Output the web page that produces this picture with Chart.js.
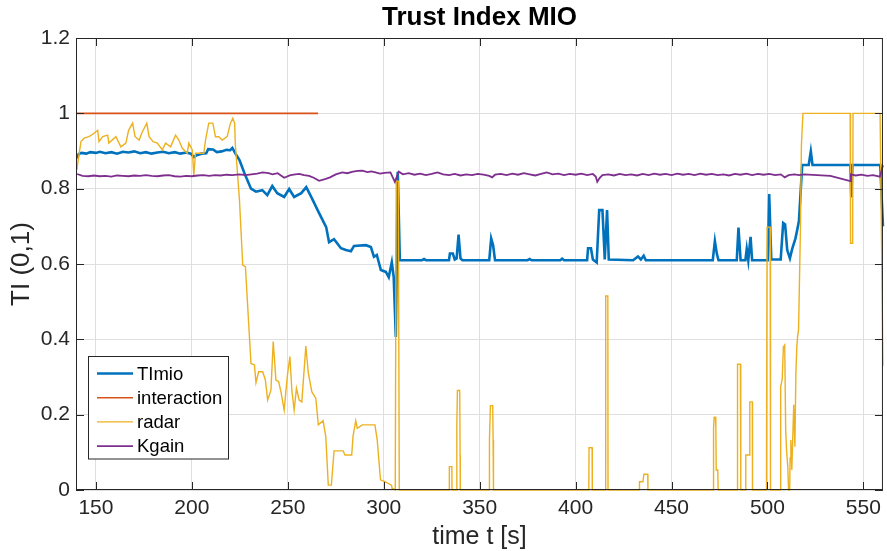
<!DOCTYPE html>
<html>
<head>
<meta charset="utf-8">
<script src="https://cdn.jsdelivr.net/npm/chart.js@4/dist/chart.umd.min.js"></script>
<style>
    html, body { margin: 0; padding: 0; background: #fff; }
</style>
</head>
<body>
<canvas id="chart" width="887" height="551"></canvas>
<script>
const FONT = '"Liberation Sans", Arial, Helvetica, sans-serif';

const xTicks = [150, 200, 250, 300, 350, 400, 450, 500, 550];
const yTicks = [0, 0.2, 0.4, 0.6, 0.8, 1, 1.2];

// TImio
const tiTime = [140.2, 141, 142.5, 145, 147, 150, 152, 155, 158, 161, 164, 167, 170, 173, 176, 179, 182, 185, 188, 191, 194, 197, 199.5, 201, 202.5, 205, 207.5, 208.5, 211, 213, 215.5, 218, 220, 221.1,
    222.5, 224.8, 227.4, 230.8, 233.4, 236.7, 239.3, 241.9, 244.5, 248.1, 250.7, 253.3, 257, 259.6, 262.2, 266.3, 270, 271.5, 274.1, 277.7, 280.3, 282.9, 284.5, 290.7, 293.3, 294.9, 296.4, 298.5, 301.1, 302.6, 304.2, 305.2, 306.3, 307.3, 308.4,
    320, 321, 322, 334, 334.5, 336, 337, 338, 339, 340, 341, 355, 356, 357, 358, 375, 376, 377, 392, 393, 394, 406, 406.5, 408, 409, 411, 412.3, 414, 415.2, 416.4, 417.3,
    430, 432.5, 434, 435.5, 436.6, 471.5, 472.6, 473.7, 474.5, 484, 484.9, 486, 488.5, 489.2, 490, 491.2, 492, 500.2, 500.9, 502, 506.9, 508.2, 509.2, 510.3, 511.7, 512.9, 514.6, 515.5, 516.4, 517.2, 518.1,
    521.5, 522.6, 523.5, 543.2, 543.7, 544.3, 558.8, 560.2];
const tiValue = [0.880, 0.892, 0.895, 0.893, 0.897, 0.895, 0.898, 0.894, 0.897, 0.893, 0.898, 0.896, 0.899, 0.894, 0.897, 0.893, 0.896, 0.898, 0.894, 0.897, 0.893, 0.896, 0.893, 0.884, 0.889, 0.893, 0.894, 0.905, 0.904, 0.897, 0.899, 0.903, 0.902, 0.908,
    0.895, 0.876, 0.841, 0.800, 0.792, 0.796, 0.783, 0.807, 0.788, 0.778, 0.799, 0.778, 0.788, 0.804, 0.778, 0.735, 0.698, 0.658, 0.666, 0.642, 0.637, 0.634, 0.648, 0.650, 0.645, 0.619, 0.624, 0.584, 0.579, 0.565, 0.605, 0.565, 0.406, 0.845, 0.610,
    0.610, 0.613, 0.610, 0.610, 0.628, 0.628, 0.612, 0.615, 0.678, 0.615, 0.610, 0.610, 0.668, 0.650, 0.610, 0.610, 0.613, 0.610, 0.610, 0.614, 0.610, 0.610, 0.642, 0.642, 0.612, 0.604, 0.743, 0.743, 0.612, 0.743, 0.612,
    0.610, 0.620, 0.612, 0.622, 0.610, 0.610, 0.661, 0.625, 0.610, 0.610, 0.697, 0.610, 0.610, 0.640, 0.610, 0.672, 0.610, 0.610, 0.786, 0.612, 0.612, 0.709, 0.705, 0.637, 0.615, 0.640, 0.668, 0.690, 0.714, 0.783, 0.863,
    0.863, 0.899, 0.863, 0.863, 0.777, 0.863, 0.863, 0.70];

// interaction
const inTime = [139.6, 265.8];
const inValue = [1, 1];

// radar
const raTime = [140.1, 140.5, 142.2, 143.8, 146.4, 149, 150.9, 151.6, 153.5, 156.1, 156.7, 160.4, 163, 165.6, 167, 169.1, 170.4, 172.5, 174.2, 176.5, 177.7, 179.8, 182, 184.6, 186.3, 188.9, 191.5, 193.2, 195, 197.6, 198.4, 200.2, 201, 201.9, 206.2, 207.1, 208.8, 210.9, 212.3, 214, 215.8, 218.4, 220.1, 221.3, 222.3, 222.6,
    224.8, 226.5, 227.9, 230.8, 232.6, 233.4, 234.8, 236.9, 238.3, 239.5, 241.2, 242.4, 243.8, 245.2, 246.4, 248.1, 249.8, 251.1, 252.1, 253.3, 254.5, 255.9, 257.3, 259.4, 260.7, 262.5, 264.6, 265.9, 268.4, 269.8, 271.1, 272.7, 274.1, 278.8, 279.8, 283.3, 284, 285.4, 286.2, 288.8, 295.4, 296.6, 298.3, 300.6, 304, 304.4, 306, 306.5, 307.6, 308.1,
    334.1, 334.2, 335.5, 335.6, 338.0, 338.1, 338.4, 339.6, 339.8, 339.9, 355.0, 355.1, 355.6, 356.8, 357.0, 357.2, 406.9, 407.0, 408.6, 408.7, 415.6, 415.7, 416.8, 416.9, 433.2, 433.3, 435.1, 435.6, 437.6, 437.7,
    471.7, 471.8, 472.0, 472.2, 472.9, 473.1, 473.3, 474.1, 474.3, 484.3, 484.4, 485.9, 486.1, 488.6, 488.7, 490.5, 490.8, 492.1, 492.2, 499.4, 499.5, 499.8, 501.4, 501.6,
    506.8, 506.9, 507.7, 508.3, 509, 509.5, 510, 510.6, 511, 511.6, 511.8, 512.2, 512.7, 513.2, 513.7, 514.3, 514.8, 515.3, 515.7, 516.2, 517.2, 517.7, 518.5, 543.1, 543.3, 544.4, 544.6, 558.7, 560.2];
const raValue = [0.850, 0.868, 0.925, 0.934, 0.938, 0.947, 0.955, 0.925, 0.938, 0.942, 0.921, 0.938, 0.911, 0.921, 0.955, 0.974, 0.938, 0.929, 0.951, 0.974, 0.938, 0.925, 0.921, 0.903, 0.921, 0.911, 0.942, 0.929, 0.907, 0.894, 0.921, 0.903, 0.836, 0.894, 0.894, 0.929, 0.974, 0.974, 0.938, 0.938, 0.929, 0.938, 0.974, 0.987, 0.974, 0.921,
    0.770, 0.597, 0.593, 0.336, 0.332, 0.285, 0.314, 0.314, 0.292, 0.239, 0.265, 0.394, 0.292, 0.288, 0.261, 0.212, 0.305, 0.354, 0.265, 0.212, 0.270, 0.239, 0.234, 0.382, 0.310, 0.261, 0.243, 0.173, 0.184, 0.141, 0.013, 0.013, 0.104, 0.104, 0.093, 0.093, 0.143, 0.184, 0.164, 0.173, 0.173, 0.133, 0.027, 0.022, 0.013, 0.004, 0, 0.82, 0.82, 0,
    0, 0.062, 0.062, 0, 0, 0.173, 0.264, 0.264, 0.093, 0, 0, 0.133, 0.224, 0.224, 0.133, 0, 0, 0.112, 0.112, 0, 0, 0.515, 0.515, 0, 0, 0.022, 0.022, 0.042, 0.042, 0,
    0, 0.102, 0.164, 0.193, 0.193, 0.164, 0.053, 0.053, 0, 0, 0.334, 0.334, 0, 0, 0.093, 0.093, 0.234, 0.234, 0, 0, 0.053, 0.698, 0.698, 0,
    0, 0.274, 0.294, 0.380, 0.385, 0.159, 0.102, 0.062, 0, 0, 0.085, 0.133, 0.053, 0.141, 0.226, 0.115, 0.305, 0.380, 0.407, 0.425, 0.695, 0.916, 1, 1, 0.655, 0.655, 1, 1, 0.33];

// Kgain
const kgTime = [140.2, 143, 146, 149, 152, 155, 158, 161, 164, 167, 170, 173, 176, 179, 182, 185, 188, 191, 194, 197, 200, 203, 206, 209, 212, 215, 218, 221, 224.8, 228, 231, 234, 236.9, 240, 242, 244.7, 248.1, 251, 253, 255.9, 258.5, 261.1, 263.5, 266.3, 269.8, 272, 275, 278.4, 281, 284, 286.5, 288.8, 291.5, 293.5, 295.7, 298, 300.5, 303.5, 305.8, 307.8,
    310, 313, 316, 319, 322, 325, 328, 331, 334, 337, 340, 343, 346, 349, 352, 355, 356.5, 358, 361, 364, 367, 370, 373, 376, 379, 382, 385, 388, 391, 394, 397, 400, 403, 406, 409, 410.5, 411.3, 412.5, 414, 417, 420, 423, 426, 429, 432, 435, 438, 441, 444, 447, 450, 453, 456, 459, 462, 465, 468, 471, 474, 477, 480, 483, 486, 489, 492, 495, 498, 501, 504, 507, 509, 511, 514, 516.5, 519, 532.8, 543.2, 543.5, 546, 549, 552, 555, 558.6, 560.2];
const kgValue = [0.839, 0.834, 0.833, 0.835, 0.833, 0.834, 0.832, 0.835, 0.834, 0.833, 0.835, 0.834, 0.836, 0.834, 0.833, 0.835, 0.836, 0.833, 0.832, 0.834, 0.833, 0.835, 0.836, 0.834, 0.836, 0.835, 0.837, 0.836, 0.838, 0.836, 0.838, 0.840, 0.843, 0.841, 0.838, 0.841, 0.829, 0.835, 0.837, 0.839, 0.836, 0.834, 0.829, 0.821, 0.826, 0.830, 0.838, 0.843, 0.841, 0.845, 0.847, 0.848, 0.844, 0.846, 0.843, 0.840, 0.842, 0.843, 0.818, 0.845,
    0.838, 0.841, 0.837, 0.840, 0.836, 0.839, 0.843, 0.838, 0.836, 0.839, 0.835, 0.838, 0.836, 0.839, 0.837, 0.834, 0.830, 0.837, 0.839, 0.836, 0.840, 0.837, 0.841, 0.838, 0.835, 0.839, 0.843, 0.838, 0.840, 0.836, 0.839, 0.837, 0.840, 0.836, 0.839, 0.832, 0.818, 0.828, 0.836, 0.838, 0.835, 0.839, 0.836, 0.838, 0.835, 0.839, 0.836, 0.840, 0.837, 0.839, 0.836, 0.840, 0.837, 0.839, 0.836, 0.840, 0.837, 0.839, 0.836, 0.838, 0.835, 0.839, 0.837, 0.840, 0.836, 0.839, 0.837, 0.839, 0.836, 0.838, 0.830, 0.836, 0.838, 0.836, 0.838, 0.834, 0.820, 0.838, 0.835, 0.837, 0.834, 0.836, 0.832, 0.862];

function toPoints(ts, vs) {
    return ts.map((t, i) => ({x: t, y: vs[i]}));
}

function lineSet(label, ts, vs, color, width, order) {
    return {
        label: label,
        data: toPoints(ts, vs),
        borderColor: color,
        backgroundColor: color,
        borderWidth: width,
        showLine: true,
        pointRadius: 0,
        tension: 0,
        fill: false,
        clip: 2,
        order: order
    };
}

// axes frame with inward ticks, like the original
const axesFrame = {
    id: 'axesFrame',
    afterDatasetsDraw(chart) {
        const {ctx, chartArea: a, scales: {x, y}} = chart;
        ctx.save();
        ctx.strokeStyle = '#262626';
        ctx.lineWidth = 1;
        ctx.beginPath();
        xTicks.forEach(v => {
            const px = Math.round(x.getPixelForValue(v)) + 0.5;
            ctx.moveTo(px, a.bottom); ctx.lineTo(px, a.bottom - 8);
            ctx.moveTo(px, a.top); ctx.lineTo(px, a.top + 8);
        });
        yTicks.forEach(v => {
            const py = Math.round(y.getPixelForValue(v)) + 0.5;
            ctx.moveTo(a.left, py); ctx.lineTo(a.left + 8, py);
            ctx.moveTo(a.right, py); ctx.lineTo(a.right - 8, py);
        });
        ctx.stroke();
        ctx.strokeRect(a.left + 0.5, a.top + 0.5, a.right - a.left - 1, a.bottom - a.top - 1);
        ctx.restore();
    }
};

const boxLegend = {
    id: 'boxLegend',
    afterDraw(chart) {
        const ctx = chart.ctx;
        const bx = 88.5, by = 356.5, bw = 140, bh = 102.5;
        ctx.save();
        ctx.fillStyle = '#fff';
        ctx.fillRect(bx, by, bw, bh);
        ctx.strokeStyle = '#262626';
        ctx.lineWidth = 1;
        ctx.strokeRect(bx, by, bw, bh);
        ctx.font = '18.5px ' + FONT;
        ctx.textBaseline = 'middle';
        ctx.fillStyle = '#000';
        chart.data.datasets.forEach((ds, i) => {
            const yy = 373.5 + i * 24.2;
            ctx.strokeStyle = ds.borderColor;
            ctx.lineWidth = ds.borderWidth;
            ctx.beginPath();
            ctx.moveTo(97, yy);
            ctx.lineTo(133, yy);
            ctx.stroke();
            ctx.fillText(ds.label, 137, yy + 1);
        });
        ctx.restore();
    }
};

const ctx = document.getElementById('chart').getContext('2d');

const chart = new Chart(ctx, {
    type: 'scatter',
    data: {
        datasets: [
            lineSet('TImio', tiTime, tiValue, '#0072BD', 2.6, 4),
            lineSet('interaction', inTime, inValue, '#D95319', 1.6, 3),
            lineSet('radar', raTime, raValue, '#EDB120', 1.4, 2),
            lineSet('Kgain', kgTime, kgValue, '#7E2F8E', 1.8, 1)
        ]
    },
    options: {
        responsive: false,
        animation: false,
        layout: {padding: {left: 0, right: 1, top: 0, bottom: 0}},
        plugins: {
            legend: {display: false},
            tooltip: {enabled: false},
            title: {
                display: true,
                fullSize: false,
                text: 'Trust Index MIO',
                color: '#000',
                font: {family: FONT, size: 26, weight: 'bold', lineHeight: 1},
                padding: {top: 5, bottom: 7}
            }
        },
        scales: {
            x: {
                type: 'linear',
                min: 139.6,
                max: 560.2,
                afterBuildTicks: scale => { scale.ticks = xTicks.map(v => ({value: v})); },
                afterFit: scale => { scale.height = 61; },
                grid: {color: '#dfdfdf', drawTicks: false},
                border: {display: false},
                ticks: {
                    color: '#262626',
                    font: {family: FONT, size: 21},
                    padding: 6,
                    maxRotation: 0,
                    callback: v => String(v)
                },
                title: {
                    display: true,
                    text: 'time t [s]',
                    color: '#262626',
                    font: {family: FONT, size: 25, lineHeight: 1.1},
                    padding: {top: 0, bottom: 0}
                }
            },
            y: {
                type: 'linear',
                min: 0,
                max: 1.2,
                afterBuildTicks: scale => { scale.ticks = yTicks.map(v => ({value: v})); },
                afterFit: scale => { scale.width = 76; },
                grid: {color: '#dfdfdf', drawTicks: false},
                border: {display: false},
                ticks: {
                    color: '#262626',
                    font: {family: FONT, size: 21},
                    padding: 6,
                    callback: v => String(v)
                },
                title: {
                    display: true,
                    text: 'TI (0,1)',
                    color: '#262626',
                    font: {family: FONT, size: 26, lineHeight: 1.1},
                    padding: {top: 8, bottom: 0}
                }
            }
        }
    },
    plugins: [axesFrame, boxLegend]
});
</script>
</body>
</html>
